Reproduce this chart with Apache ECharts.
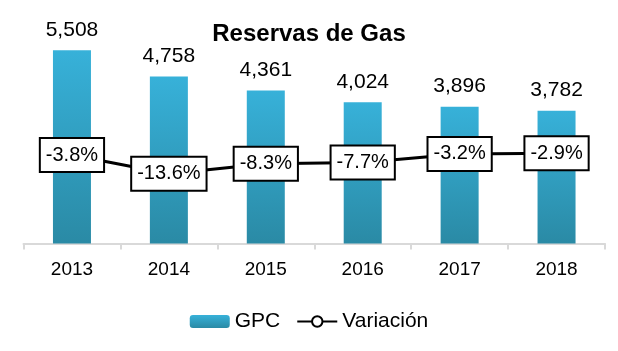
<!DOCTYPE html>
<html>
<head>
<meta charset="utf-8">
<script src="https://cdn.jsdelivr.net/npm/echarts@6/dist/echarts.min.js"></script>
<style>
  html, body { margin: 0; padding: 0; background: #fff; }
  #chart { width: 618px; height: 351px; }
</style>
</head>
<body>
<div id="chart"></div>
<script>
const years = ["2013", "2014", "2015", "2016", "2017", "2018"];
const gpc = [5508, 4758, 4361, 4024, 3896, 3782];
const variacion = [-3.8, -13.6, -8.3, -7.7, -3.2, -2.9];

// no Arial Narrow here, so slightly smaller regular sans
const narrow = "'Liberation Sans Narrow', 'Arial Narrow', 'Liberation Sans', Arial, sans-serif";

const chart = echarts.init(document.getElementById("chart"));

chart.setOption({
  animation: false,
  title: {
    text: "Reservas de Gas",
    left: "center",
    top: 17,
    textStyle: { fontFamily: "'Liberation Sans', Arial, sans-serif", fontWeight: "bold", fontSize: 24, color: "#000" }
  },
  legend: {
    bottom: 14,
    left: "center",
    itemGap: 16,
    itemWidth: 40,
    itemHeight: 13,
    textStyle: { fontFamily: narrow, fontSize: 21, color: "#000" },
    data: ["GPC", "Variación"]
  },
  grid: { left: 23.5, right: 13, top: 33, bottom: 107.5 },
  xAxis: {
    type: "category",
    data: years,
    axisLine: { lineStyle: { color: "#d9d9d9", width: 2 } },
    axisTick: { show: true, length: 6, lineStyle: { color: "#d9d9d9", width: 2 } },
    axisLabel: { fontFamily: narrow, fontSize: 19, color: "#000", margin: 17 }
  },
  yAxis: [
    { type: "value", min: 0, max: 6000, show: false, splitLine: { show: false } },
    { type: "value", min: -50, max: 60, show: false, splitLine: { show: false } }
  ],
  series: [
    {
      name: "GPC",
      type: "bar",
      data: gpc,
      barWidth: 38,
      itemStyle: {
        color: new echarts.graphic.LinearGradient(0, 0, 0, 1, [
          { offset: 0, color: "#37b1d9" },
          { offset: 1, color: "#2a8aa5" }
        ])
      },
      label: {
        show: true,
        position: "top",
        distance: 10,
        fontFamily: narrow,
        fontSize: 21,
        color: "#000",
        formatter: (p) => p.value.toLocaleString("en-US")
      }
    },
    {
      name: "Variación",
      type: "line",
      yAxisIndex: 1,
      data: variacion,
      symbol: "circle",
      symbolSize: 9,
      itemStyle: { color: "#fff", borderColor: "#000", borderWidth: 2 },
      lineStyle: { color: "#000", width: 3 },
      label: {
        show: true,
        position: "inside",
        fontFamily: narrow,
        fontSize: 20,
        color: "#000",
        backgroundColor: "#fff",
        borderColor: "#000",
        borderWidth: 2,
        padding: [7, 5, 5, 5],
        formatter: (p) => p.value.toFixed(1) + "%"
      }
    }
  ]
});
</script>
</body>
</html>
